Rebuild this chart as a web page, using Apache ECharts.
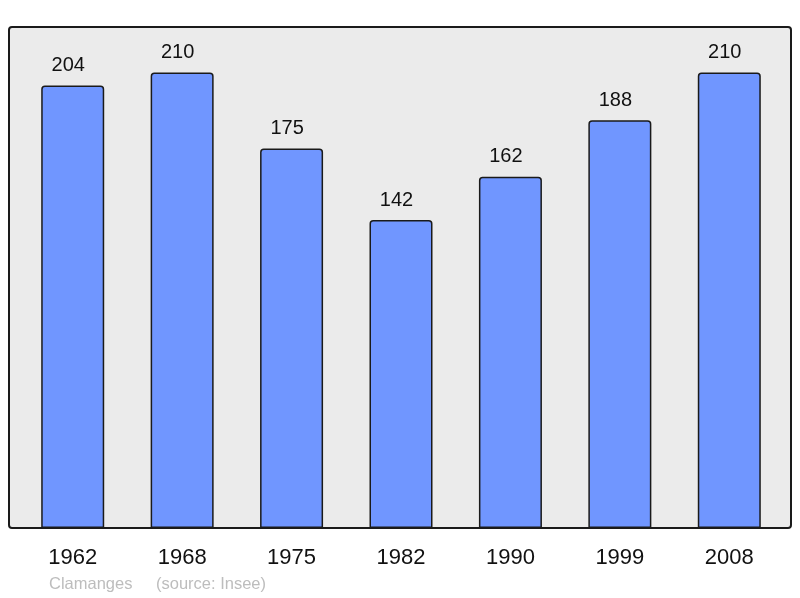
<!DOCTYPE html>
<html><head><meta charset="utf-8">
<script src="https://cdn.jsdelivr.net/npm/echarts@6/dist/echarts.min.js"></script>
<style>html,body{margin:0;padding:0;background:#fff}#c{width:800px;height:598px}</style>
</head><body><div id="c"></div>
<script>
const categories = ['1962','1968','1975','1982','1990','1999','2008'];
const population = [204, 210, 175, 142, 162, 188, 210];
const footerName = 'Clamanges';
const footerSource = '(source: Insee)';

const chart = echarts.init(document.getElementById('c'), null, {renderer:'canvas'});
chart.setOption({
  animation: false,
  backgroundColor: '#ffffff',
  textStyle: {fontFamily: 'Liberation Sans'},
  graphic: [
    {type:'rect', z: -10, shape:{x:9, y:27, width:782, height:501, r:3},
     style:{fill:'#ebebeb', stroke:'#1a1a1a', lineWidth:2}},
    {type:'text', x:49, y:584,
     style:{text: footerName, fill:'#bdbdbd', font:'16.5px "Liberation Sans"', textVerticalAlign:'middle'}},
    {type:'text', x:156, y:584,
     style:{text: footerSource, fill:'#bdbdbd', font:'16.5px "Liberation Sans"', textVerticalAlign:'middle'}}
  ],
  grid: {left:18, right:16, top:27, bottom:70, show:false},
  xAxis: {
    type:'category', data: categories,
    axisLine:{show:false}, axisTick:{show:false},
    axisLabel:{color:'#111', fontSize:22, margin:19, fontFamily:'Liberation Sans'}
  },
  yAxis: {type:'value', min:0, max:231, show:false, splitLine:{show:false}},
  series: [{
    type:'bar', data: population, barWidth:63,
    itemStyle:{color:'#7096ff', borderColor:'#1a1a1a', borderWidth:1.5, borderRadius:[3,3,0,0]},
    label:{show:true, position:'top', distance:10, offset:[-4.5,0], color:'#111', fontSize:20, fontFamily:'Liberation Sans'}
  }]
});
</script></body></html>
